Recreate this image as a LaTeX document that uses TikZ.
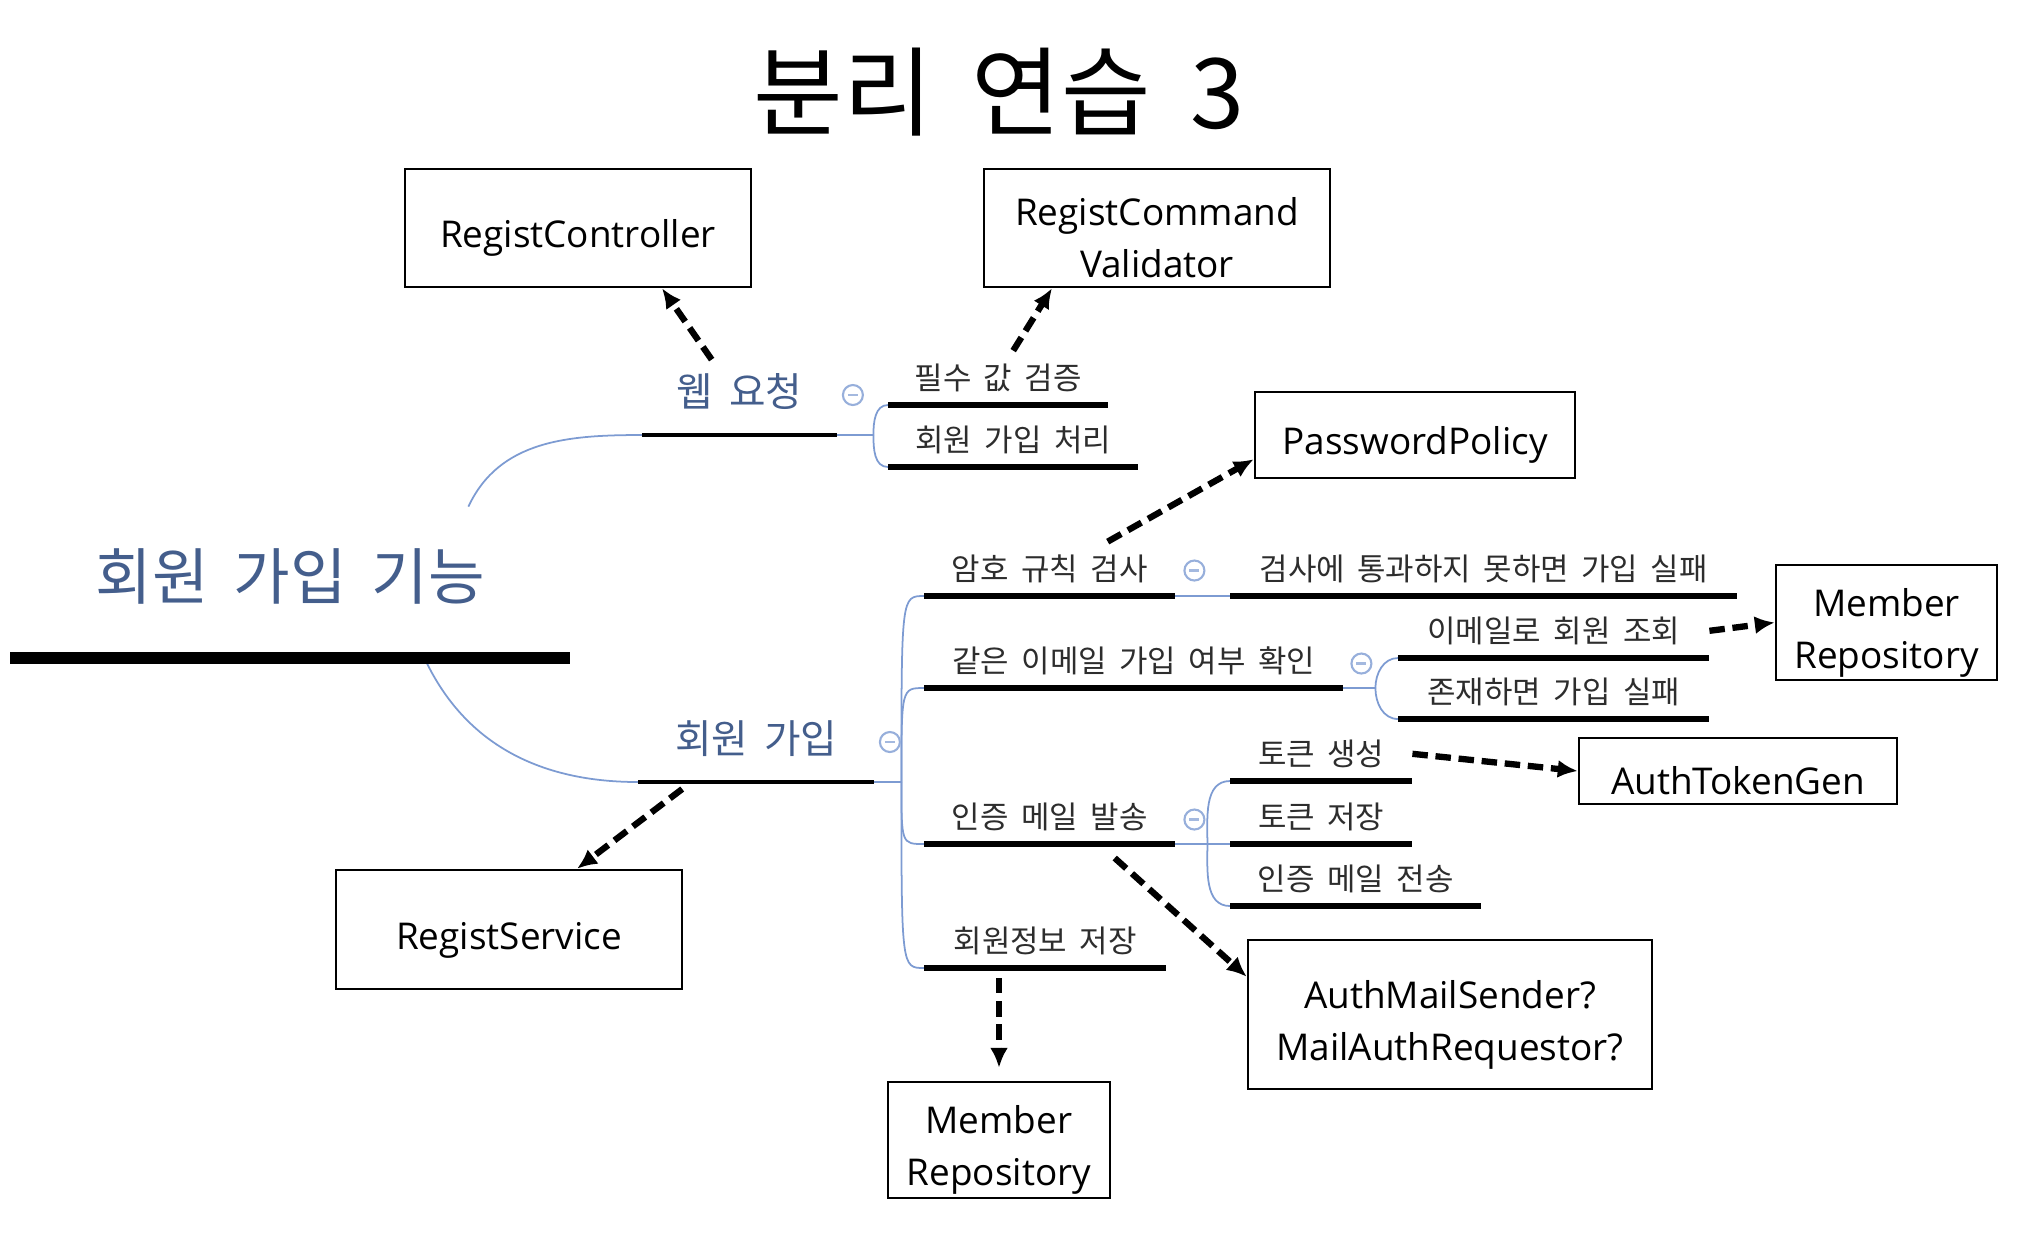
\documentclass[tikz,border=0pt]{standalone}
\usepackage{fontspec}
\setmainfont{Open Sans}
\newfontfamily\kr[WordSpace=1.8]{Noto Sans CJK KR}
\usepackage{tikz}
\usetikzlibrary{arrows.meta}
\usetikzlibrary{positioning}
\definecolor{topicblue}{RGB}{68,94,140}
\definecolor{branchblue}{RGB}{125,155,210}
\definecolor{leafgray}{RGB}{45,45,45}

\tikzset{
  cls/.style={draw, line width=0.7pt, align=center, inner sep=0pt,
    font=\fontsize{10.5}{14.8}\selectfont,
    execute at begin node={\rule{0pt}{#1}}},
  cls/.default=13.7pt,
  topic/.style={anchor=south west, inner sep=0pt, minimum height=0.86cm,
    text=topicblue, font=\kr\fontsize{11.3}{13}\selectfont},
  leaf/.style={anchor=south west, inner sep=0pt, minimum height=0.53cm,
    text=leafgray, font=\kr\fontsize{8.8}{10}\selectfont},
  uline/.style={line width=0.065cm},
  branch/.style={draw=branchblue, line width=0.5pt},
  fold/.style={circle, draw=branchblue!80, line width=0.6pt, minimum size=0.2cm, inner sep=0pt,
    path picture={\draw[branchblue!70, line width=0.6pt]
      ([xshift=-0.05cm]path picture bounding box.center) -- ([xshift=0.05cm]path picture bounding box.center);}},
  dep/.style={-{Latex[length=0.2cm,width=0.18cm]}, line width=1.8pt, dash pattern=on 4.4pt off 2.2pt},
}

\begin{document}
\begin{tikzpicture}
  \useasboundingbox (0,0) rectangle (20.24,-12.40);

  \node[font=\kr\fontsize{27.7}{30}\selectfont] (title) at (9.99,-0.92) {분리 연습 3};

  % mind map
  \node[anchor=south west, inner sep=0pt, minimum width=5.59cm, minimum height=1.61cm,
    text=topicblue, font=\kr\fontsize{17.5}{20}\selectfont] (root) at (0.10,-6.58) {회원 가입 기능};

  \node[topic, minimum width=1.94cm] (web) at (6.42,-4.35) {웹 요청};
  \node[topic, minimum width=2.35cm] (join) at (6.38,-7.82) {회원 가입};

  \node[leaf, minimum width=2.19cm] (req) at (8.88,-4.05) {필수 값 검증};
  \node[leaf, minimum width=2.49cm] (proc) at (8.88,-4.67) {회원 가입 처리};

  \node[leaf, minimum width=2.50cm] (pwchk) at (9.24,-5.96) {암호 규칙 검사};
  \node[leaf, minimum width=4.18cm] (dup) at (9.24,-6.88) {같은 이메일 가입 여부 확인};
  \node[leaf, minimum width=2.50cm] (mail) at (9.24,-8.44) {인증 메일 발송};
  \node[leaf, minimum width=2.41cm] (save) at (9.24,-9.68) {회원정보 저장};

  \node[leaf, minimum width=5.06cm] (pwfail) at (12.30,-5.96) {검사에 통과하지 못하면 가입 실패};
  \node[leaf, minimum width=3.10cm] (find) at (13.98,-6.58) {이메일로 회원 조회};
  \node[leaf, minimum width=3.10cm] (exist) at (13.98,-7.19) {존재하면 가입 실패};
  \node[leaf, minimum width=1.81cm] (tokgen) at (12.30,-7.81) {토큰 생성};
  \node[leaf, minimum width=1.81cm] (toksave) at (12.30,-8.44) {토큰 저장};
  \node[leaf, minimum width=2.50cm] (send) at (12.30,-9.06) {인증 메일 전송};

  % branches
  \coordinate (webbp) at ([xshift=0.36cm]web.south east);
  \coordinate (joinbp) at ([xshift=0.27cm]join.south east);
  \coordinate (dupbp) at ([xshift=0.32cm]dup.south east);
  \coordinate (mailbp) at ([xshift=0.32cm]mail.south east);

  \draw[branch] ([xshift=-1.02cm,yshift=-0.11cm]root.north east) to[out=65,in=180] (web.south west);
  \draw[branch] ([xshift=-1.46cm]root.south east) to[out=-65,in=180] (join.south west);

  \draw[branch] (web.south east) -- (webbp);
  \draw[branch] (webbp) to[out=90,in=180] (req.south west);
  \draw[branch] (webbp) to[out=-90,in=180] (proc.south west);
  \draw[branch] (join.south east) -- (joinbp);
  \foreach \n in {pwchk,dup,mail,save}
    \draw[branch] (joinbp) .. controls (joinbp |- \n.south west) .. (\n.south west);
  \draw[branch] (pwchk.south east) -- (pwfail.south west);
  \draw[branch] (dup.south east) -- (dupbp);
  \draw[branch] (dupbp) to[out=90,in=180] (find.south west);
  \draw[branch] (dupbp) to[out=-90,in=180] (exist.south west);
  \draw[branch] (mail.south east) -- (mailbp);
  \draw[branch] (mailbp) to[out=90,in=180] (tokgen.south west);
  \draw[branch] (mailbp) -- (toksave.south west);
  \draw[branch] (mailbp) to[out=-90,in=180] (send.south west);

  % underlines
  \draw[line width=0.115cm] (root.south west) -- (root.south east);
  \foreach \n in {web,join}
    \draw[line width=0.035cm] (\n.south west) -- (\n.south east);
  \foreach \n in {req,proc,pwchk,dup,mail,save,pwfail,find,exist,tokgen,toksave,send}
    \draw[uline] (\n.south west) -- (\n.south east);

  \node[fold] (webfold) at ([shift={(0.155,0.40)}]web.south east) {};
  \node[fold] (joinfold) at ([shift={(0.155,0.40)}]join.south east) {};
  \node[fold] (pwfold) at ([shift={(0.19,0.255)}]pwchk.south east) {};
  \node[fold] (dupfold) at ([shift={(0.18,0.245)}]dup.south east) {};
  \node[fold] (mailfold) at ([shift={(0.19,0.245)}]mail.south east) {};

  % classes
  \node[cls, minimum width=3.46cm, minimum height=1.18cm] (ctrl) at (5.78,-2.28) {RegistController};
  \node[cls=28.5pt, minimum width=3.46cm, minimum height=1.18cm] (valid) at (11.57,-2.28) {RegistCommand\\Validator};
  \node[cls, minimum width=3.20cm, minimum height=0.86cm] (policy) at (14.15,-4.35) {PasswordPolicy};
  \node[cls=28.5pt, minimum width=2.21cm, minimum height=1.15cm] (repoa) at (18.865,-6.225) {Member\\Repository};
  \node[cls, minimum width=3.18cm, minimum height=0.66cm] (token) at (17.38,-7.71) {AuthTokenGen};
  \node[cls, minimum width=3.46cm, minimum height=1.19cm] (svc) at (5.09,-9.295) {RegistService};
  \node[cls=28.5pt, minimum width=4.04cm, minimum height=1.49cm] (sender) at (14.50,-10.145) {AuthMailSender?\\MailAuthRequestor?};
  \node[cls=28.5pt, minimum width=2.22cm, minimum height=1.16cm] (repob) at (9.99,-11.40) {Member\\Repository};

  % dependencies
  \draw[dep] ([xshift=-0.28cm,yshift=-0.12cm]web.north) -- ([xshift=0.84cm]ctrl.south);
  \draw[dep] ([xshift=0.15cm]req.north) -- ([xshift=-1.05cm]valid.south);
  \draw[dep] ([xshift=0.58cm]pwchk.north) -- ([yshift=0.2cm]policy.south west);
  \draw[dep] (find.east) -- (repoa.west);
  \draw[dep] (tokgen.east) -- (token.west);
  \draw[dep] ([xshift=0.65cm,yshift=-0.14cm]mail.south) -- ([yshift=-0.38cm]sender.north west);
  \draw[dep] ([xshift=-0.74cm,yshift=-0.07cm]join.south) -- ([xshift=0.68cm]svc.north);
  \draw[dep, shorten <=0.1cm, shorten >=0.13cm] (repob.north |- save.south) -- (repob.north);
\end{tikzpicture}
\end{document}
